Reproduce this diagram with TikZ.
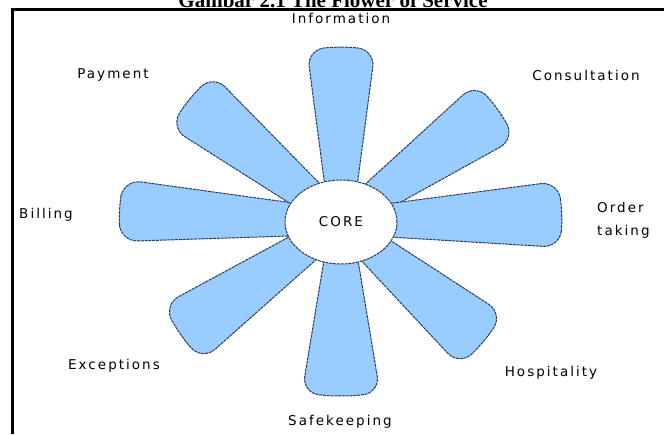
\documentclass[tikz,border=0pt]{standalone}
\usepackage{fontspec}
\usetikzlibrary{shapes.geometric}
\newfontfamily\lblfont[LetterSpace=15]{DejaVu Sans}
\newfontfamily\titlefont{Liberation Serif}
\definecolor{petalfill}{RGB}{153,204,255}
\definecolor{petalline}{RGB}{40,60,90}
\newcommand\flowerpetal[3]{%
  \begin{scope}[shift={(c)}, rotate=#1]
    \draw[petal] (20,-14) -- (#2,-#3) -- (#2+4,0) -- (#2,#3) -- (20,14) -- cycle;
  \end{scope}}
\tikzset{
  petal/.style={fill=petalfill, draw=petalline, line width=1pt,
    dash pattern=on 3pt off 0.8pt, rounded corners=17pt},
  core/.style={ellipse, fill=white, draw=petalline, line width=1pt,
    dash pattern=on 3pt off 0.8pt, minimum width=112pt, minimum height=84pt, inner sep=0pt},
  lbl/.style={font=\lblfont\fontsize{13.5}{23}\selectfont, text=black, inner sep=0pt},
  frameline/.style={draw=black},
}
\begin{document}
\begin{tikzpicture}[x=1pt,y=-1pt]
\useasboundingbox (0,0) rectangle (664,434);
\fill[white] (0,0) rectangle (664,434);
\node[font=\titlefont\bfseries\fontsize{21}{24}\selectfont, anchor=base, inner sep=0pt] (title) at (333,7.5) {Gambar 2.1 The Flower of Service};
\draw[frameline, line width=2.5pt] (11,9.5) -- (664,9.5);
\draw[frameline, line width=3pt] (12.5,8.3) -- (12.5,434);
\coordinate (c) at (341,222);
\flowerpetal{90}{172}{34}
\flowerpetal{35.7}{190}{34}
\flowerpetal{2}{218}{33}
\flowerpetal{-40}{183}{34}
\flowerpetal{-90}{171}{39}
\flowerpetal{215}{193}{34}
\flowerpetal{177}{219}{31}
\flowerpetal{141}{192}{34}
\node[core, lbl] (core) at (c) {CORE};
\node[lbl] (information) at (341,18) {Information};
\node[lbl] (payment) at (113,75) {Payment};
\node[lbl] (consultation) at (586,75) {Consultation};
\node[lbl] (billing) at (46,215) {Billing};
\node[lbl, anchor=west, align=left] (order) at (597,220) {Order\\taking};
\node[lbl] (exceptions) at (114,366) {Exceptions};
\node[lbl] (hospitality) at (551,373) {Hospitality};
\node[lbl] (safekeeping) at (340,422) {Safekeeping};
\end{tikzpicture}
\end{document}
